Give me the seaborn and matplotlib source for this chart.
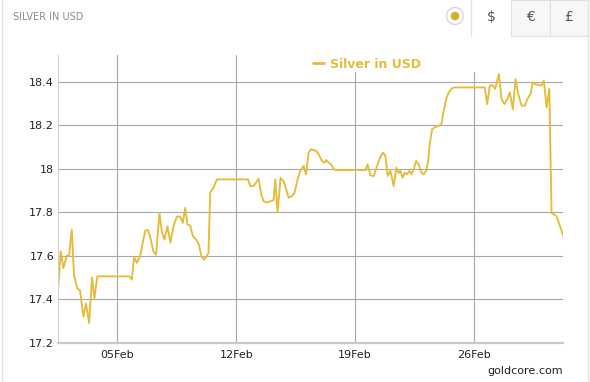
import matplotlib
matplotlib.use("Agg")
import matplotlib.pyplot as plt
import matplotlib.dates as mdates
from matplotlib.patches import Rectangle, Ellipse
import numpy as np
import pandas as pd
import seaborn as sns

# ---- data (hours after 2017-02-01 00:00, silver price in USD) ----
start = "2017-02-01 00:00"
hours = [12.5, 15.9, 19.6, 24.4, 27.7, 31.5, 34.7, 39.4, 43.2, 47.9, 51.7, 56, 60.2, 63.5, 67.7,
         113, 116.4, 119.6, 123.5, 128.1, 131.9, 135.6, 139.4, 143.3, 146.9, 150.8, 155.4, 158.8,
         162.5, 166.8, 171, 175.2, 180.1, 184.7, 188.5, 191.8, 195.1, 198.9, 202.7, 207.4, 211.2,
         214.9, 218.7, 221.5, 224.8, 227.2, 231.9, 236.7,
         280.5, 283.8, 288.5, 291.9, 295.5, 299.4, 302.6, 307.4, 312.1, 316.8, 319.2, 322.4, 326.7,
         330.9, 334.7, 338, 342.8, 346.5, 350.7, 354.5, 359.2, 362.6, 366.3, 370.1, 373.4, 377.2,
         380.4, 385.2, 388.5, 391.3, 394.6, 398, 401.7, 404.1,
         446.5, 449.8, 453.6, 458.3, 463.1, 467.7, 471.6, 474.8, 478.1, 481.9, 486.6, 490.4, 493.6,
         496, 499.3, 502.1, 505.5, 508.8, 511.6, 514.9, 518.3, 521.9, 525.8, 529, 532.4, 535.3,
         537.5, 540.9, 544.6, 549.4, 554.1, 557.3, 560.7, 564.4, 569.2, 572.9,
         615.3, 618.7, 622.4, 626.2, 630.1, 635.2, 639, 643.2, 647, 650.7, 655, 658.8, 662.6,
         667.3, 671.9, 676.2, 680, 683.3, 687.1, 691.8, 695.2, 698.8, 702.7, 706.5, 709.7, 713,
         716.8, 720.1, 726.3]
prices = [17.459, 17.62, 17.543, 17.60, 17.60, 17.72, 17.51, 17.45, 17.44, 17.32, 17.38, 17.29, 17.50, 17.405, 17.505,
          17.505, 17.49, 17.594, 17.567, 17.597, 17.66, 17.717, 17.717, 17.674, 17.62, 17.605, 17.797, 17.712,
          17.674, 17.735, 17.659, 17.735, 17.78, 17.78, 17.751, 17.82, 17.743, 17.739, 17.69, 17.674, 17.651,
          17.597, 17.582, 17.594, 17.613, 17.89, 17.913, 17.951,
          17.951, 17.92, 17.92, 17.936, 17.954, 17.882, 17.851, 17.844, 17.851, 17.856, 17.951, 17.80, 17.959,
          17.943, 17.905, 17.867, 17.874, 17.89, 17.951, 17.99, 18.013, 17.974, 18.074, 18.09, 18.086, 18.082,
          18.067, 18.036, 18.028, 18.04, 18.028, 18.02, 18.0, 17.994,
          17.994, 18.02, 17.97, 17.966, 18.013, 18.056, 18.074, 18.059, 17.966, 17.99, 17.92, 18.005, 17.98,
          17.99, 17.959, 17.982, 17.974, 17.99, 17.974, 17.997, 18.036, 18.02, 17.982, 17.974, 17.99, 18.036,
          18.113, 18.182, 18.19, 18.197, 18.205, 18.267, 18.32, 18.351, 18.371, 18.374,
          18.374, 18.297, 18.382, 18.385, 18.367, 18.436, 18.32, 18.297, 18.32, 18.351, 18.274, 18.413, 18.344,
          18.29, 18.29, 18.324, 18.344, 18.398, 18.387, 18.387, 18.382, 18.405, 18.282, 18.367, 17.797, 17.79,
          17.782, 17.751, 17.69]
y_ticks = [17.2, 17.4, 17.6, 17.8, 18.0, 18.2, 18.4]
y_tick_labels = ["17.2", "17.4", "17.6", "17.8", "18", "18.2", "18.4"]
x_ticks = ["2017-02-05", "2017-02-12", "2017-02-19", "2017-02-26"]
series_name = "Silver in USD"
title = "SILVER IN USD"

df = pd.DataFrame({
    "time": pd.Timestamp(start) + pd.to_timedelta(hours, unit="h"),
    "price": prices,
    "series": series_name,
})

GOLD = "#e5bb3a"
W, H = 590, 382

sns.set_theme(style="white")
plt.rcParams["font.family"] = ["DejaVu Sans"]

fig = plt.figure(figsize=(W / 100, H / 100), dpi=100)
fig.patch.set_facecolor("white")

# axes position in pixels
L, R, T, B = 58.3, 563.3, 55.0, 342.7
ax = fig.add_axes([L / W, (H - B) / H, (R - L) / W, (B - T) / H])

sns.lineplot(data=df, x="time", y="price", hue="series", palette=[GOLD],
             linewidth=1.35, ax=ax, legend=True)

ax.set_xlim(df["time"].min(), df["time"].max())
ax.set_ylim(17.2, 18.523)
ax.set_yticks(y_ticks)
ax.set_yticklabels(y_tick_labels)
ax.set_xticks(pd.to_datetime(x_ticks))
ax.xaxis.set_major_formatter(mdates.DateFormatter("%d%b"))
ax.set_xlabel("")
ax.set_ylabel("")
ax.tick_params(axis="both", length=0, labelsize=8, colors="#222222")
ax.tick_params(axis="y", pad=3)
ax.tick_params(axis="x", pad=5)

ax.set_axisbelow(True)
ax.grid(True, color="#a8a8a8", linewidth=0.8)
for s in ["top", "right"]:
    ax.spines[s].set_visible(False)
ax.spines["left"].set_color("#d0d0d0")
ax.spines["left"].set_linewidth(0.8)
ax.spines["bottom"].set_color("#c8c8c8")
ax.spines["bottom"].set_linewidth(1.6)

# white strip behind legend (legend area hides top of grid lines)
ax.add_patch(Rectangle(((300 - L) / (R - L), (B - 72) / (B - T)), 1.0, 1.0,
                       transform=ax.transAxes, facecolor="white", edgecolor="none",
                       zorder=1, clip_on=False))

leg = ax.legend(loc="center", bbox_to_anchor=((367 - L) / (R - L), (B - 64) / (B - T)),
                frameon=False, handlelength=0.9, handletextpad=0.5,
                prop={"weight": "bold", "size": 9})
for txt in leg.get_texts():
    txt.set_color(GOLD)
for line in leg.get_lines():
    line.set_linewidth(2)

# ---- header / frame decorations ----
def px(x, y):
    return x / W, 1 - y / H

fig.text(*px(13, 17), title, fontsize=7, color="#8a8a8a", va="center", ha="left")

# outer frame lines
fig.add_artist(plt.Line2D([2 / W, 2 / W], [0, 1], color="#e2e2e2", lw=1))
fig.add_artist(plt.Line2D([588 / W, 588 / W], [0, 1], color="#e2e2e2", lw=1))

# currency buttons
fig.add_artist(plt.Line2D([471 / W, 471 / W], [1 - 36 / H, 1], color="#e4e4e4", lw=1))
for x0, x1 in [(511, 549.5), (549.5, 588)]:
    fig.add_artist(Rectangle((x0 / W, 1 - 36 / H), (x1 - x0) / W, 36 / H,
                             transform=fig.transFigure, facecolor="#f7f7f7",
                             edgecolor="#e0e0e0", lw=0.8))
fig.text(*px(491, 17), "$", fontsize=10, color="#555555", ha="center", va="center")
fig.text(*px(530, 17), "€", fontsize=10, color="#555555", ha="center", va="center")
fig.text(*px(569, 17), "£", fontsize=10, color="#555555", ha="center", va="center")

# gold dot with ring
fig.add_artist(Ellipse(px(455, 16), 17 / W, 17 / H, transform=fig.transFigure,
                       facecolor="#fdfdfd", edgecolor="#d6d6d6", lw=0.9))
fig.add_artist(Ellipse(px(455, 16), 8.5 / W, 8.5 / H, transform=fig.transFigure,
                       facecolor="#d9ac2c", edgecolor="none"))

fig.text(*px(563, 371), "goldcore.com", fontsize=8, color="#222222",
         ha="right", va="center")

fig.savefig("out.png", dpi=100)
